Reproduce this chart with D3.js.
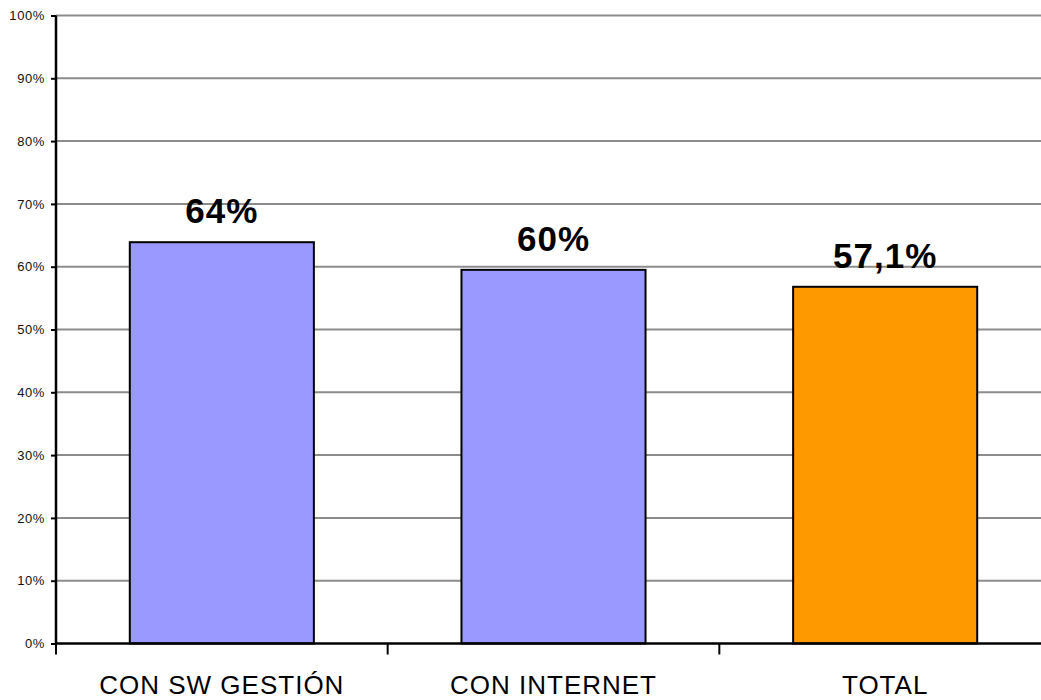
<!DOCTYPE html>
<html><head><meta charset="utf-8">
<script src="https://cdn.jsdelivr.net/npm/d3@7"></script>
<style>body{margin:0;background:#fff}svg{display:block}</style>
</head><body>
<svg id="c" width="1041" height="700"></svg>
<script>
const categories = ["CON SW GESTIÓN", "CON INTERNET", "TOTAL"];
const values = [63.9, 59.5, 56.8];
const labels = ["64%", "60%", "57,1%"];
const colors = ["#9999FF", "#9999FF", "#FF9900"];
const yTicks = [0,10,20,30,40,50,60,70,80,90,100];

const svg = d3.select("#c");
const x0 = 56, x1 = 1051, yTop = 15.5, yBot = 643.5;
const x = d3.scaleBand().domain(categories).range([x0, x1]).paddingInner(0.445).paddingOuter(0.2225);
const y = d3.scaleLinear().domain([0,100]).range([yBot, yTop]);
const font = "Liberation Sans, Arial, sans-serif";

// gridlines
svg.append("g").selectAll("line").data(yTicks.filter(d=>d>0)).join("line")
  .attr("x1", x0).attr("x2", 1041).attr("y1", d=>y(d)).attr("y2", d=>y(d))
  .attr("stroke", "#8c8c8c").attr("stroke-width", 2);

// bars
svg.append("g").selectAll("rect").data(categories).join("rect")
  .attr("x", d=>x(d)).attr("width", x.bandwidth())
  .attr("y", (d,i)=>y(values[i])).attr("height", (d,i)=>yBot - y(values[i]))
  .attr("fill", (d,i)=>colors[i]).attr("stroke", "#000").attr("stroke-width", 2);

// value labels
svg.append("g").selectAll("text").data(categories).join("text")
  .attr("x", d=>x(d)+x.bandwidth()/2).attr("y", (d,i)=>y(values[i]) - 19)
  .attr("text-anchor", "middle").attr("font-family", font)
  .attr("font-weight", "bold").attr("font-size", 35).attr("letter-spacing", 1).attr("fill", "#000")
  .text((d,i)=>labels[i]);

// y axis
const yAxis = d3.axisLeft(y).tickValues(yTicks).tickFormat(d=>d+"%").tickSize(5).tickPadding(6);
const gy = svg.append("g").attr("transform", `translate(${x0},0)`).call(yAxis);
gy.select(".domain").attr("stroke", "#000").attr("stroke-width", 2.5).attr("d", `M0,${yTop}V${yBot}`);
gy.selectAll(".tick line").attr("stroke", "#000").attr("stroke-width", 2);
gy.selectAll(".tick text").attr("font-family", font).attr("font-size", 13).attr("letter-spacing", 0.6).attr("fill", "#111");

// x axis
const xb = d3.scaleLinear().domain([0, categories.length]).range([x0, x1]);
svg.append("line").attr("x1", x0).attr("x2", 1041).attr("y1", yBot).attr("y2", yBot)
  .attr("stroke", "#000").attr("stroke-width", 2.5);
svg.append("g").selectAll("line").data(d3.range(categories.length+1)).join("line")
  .attr("x1", d=>xb(d)).attr("x2", d=>xb(d)).attr("y1", yBot).attr("y2", yBot+11)
  .attr("stroke", "#000").attr("stroke-width", 2);
svg.append("g").selectAll("text").data(categories).join("text")
  .attr("x", d=>x(d)+x.bandwidth()/2).attr("y", 694)
  .attr("text-anchor", "middle").attr("font-family", font)
  .attr("font-size", 26).attr("letter-spacing", 1).attr("fill", "#000").text(d=>d);
</script>
</body></html>
